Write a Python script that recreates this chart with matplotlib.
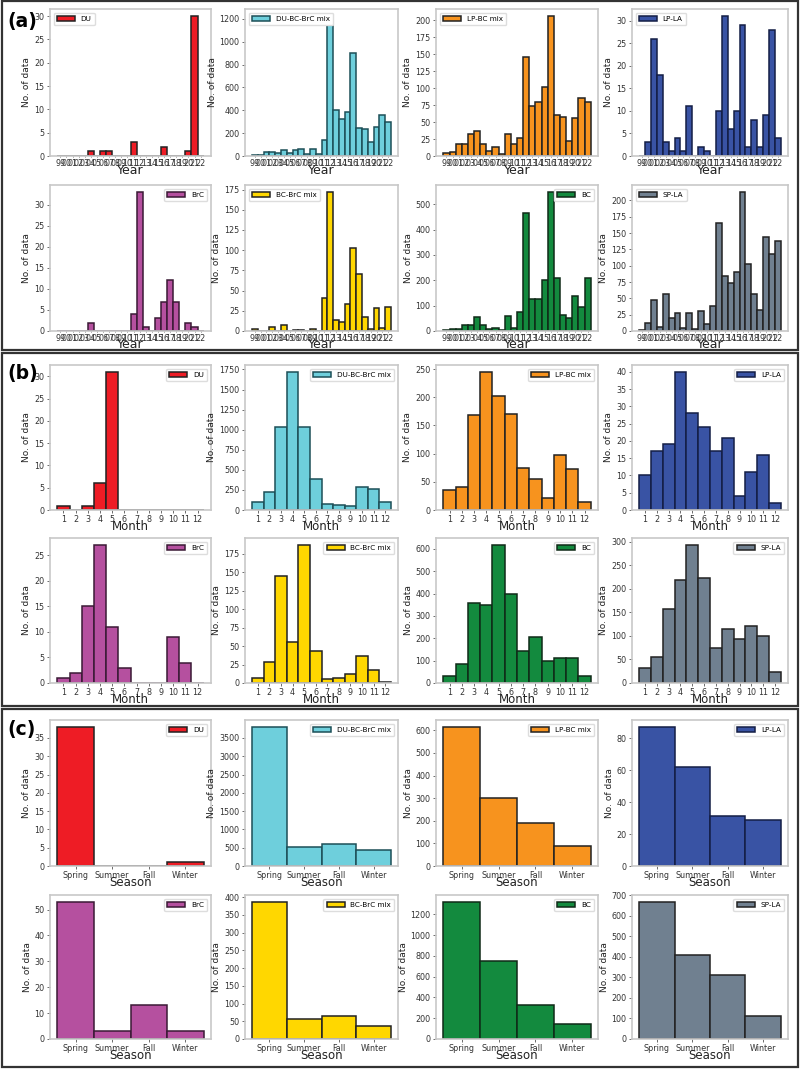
import numpy as np
import matplotlib
matplotlib.use("Agg")
import matplotlib.pyplot as plt
from matplotlib.patches import Rectangle
from matplotlib.ticker import MaxNLocator

types = ["DU", "DU-BC-BrC mix", "LP-BC mix", "LP-LA", "BrC", "BC-BrC mix", "BC", "SP-LA"]
colors = ["#ee1c25", "#6ecfdc", "#f7931e", "#3953a4", "#b5509f", "#ffd700", "#138a3e", "#708090"]
edges = ["#222222", "#1d4f57", "#222222", "#141e45", "#3a1a35", "#222222", "#0f2a18", "#222222"]

years = ["99"] + ["%02d" % y for y in range(0, 23)]
months = [str(m) for m in range(1, 13)]
seasons = ["Spring", "Summer", "Fall", "Winter"]

year_counts = [
    [0, 0, 0, 0, 0, 1, 0, 1, 1, 0, 0, 0, 3, 0, 0, 0, 0, 2, 0, 0, 0, 1, 30, 0],
    [5, 5, 35, 35, 30, 55, 30, 55, 65, 20, 65, 15, 140, 1225, 405, 320, 385, 905, 245, 235, 125, 255, 355, 300],
    [4, 6, 17, 18, 33, 37, 17, 7, 13, 3, 33, 17, 26, 146, 73, 79, 102, 206, 60, 57, 22, 56, 86, 80],
    [0, 3, 26, 18, 3, 1, 4, 1, 11, 0, 2, 1, 0, 10, 31, 6, 10, 29, 2, 8, 2, 9, 28, 4],
    [0, 0, 0, 0, 0, 2, 0, 0, 0, 0, 0, 0, 4, 33, 1, 0, 3, 7, 12, 7, 0, 2, 1, 0],
    [2, 0, 0, 5, 0, 8, 0, 1, 1, 0, 2, 0, 41, 172, 14, 11, 34, 103, 70, 17, 3, 28, 4, 30],
    [3, 8, 8, 22, 22, 57, 22, 8, 13, 3, 60, 12, 75, 465, 125, 125, 200, 548, 210, 63, 53, 137, 96, 210],
    [2, 13, 47, 6, 56, 20, 27, 4, 27, 3, 31, 11, 38, 165, 84, 73, 91, 213, 103, 56, 32, 144, 118, 138],
]

month_counts = [
    [1, 0, 1, 6, 31, 0, 0, 0, 0, 0, 0, 0],
    [105, 230, 1030, 1720, 1030, 380, 75, 65, 55, 285, 260, 95],
    [36, 40, 168, 245, 203, 170, 75, 55, 22, 97, 73, 15],
    [10, 17, 19, 40, 28, 24, 17, 21, 4, 11, 16, 2],
    [1, 2, 15, 27, 11, 3, 0, 0, 0, 9, 4, 0],
    [7, 28, 145, 55, 187, 44, 5, 7, 12, 36, 18, 2],
    [30, 85, 357, 347, 618, 400, 145, 205, 100, 113, 112, 30],
    [32, 55, 157, 218, 293, 222, 74, 115, 94, 120, 99, 23],
]

season_counts = [
    [38, 0, 0, 1],
    [3800, 520, 600, 430],
    [615, 300, 192, 90],
    [87, 62, 31, 29],
    [53, 3, 13, 3],
    [387, 57, 66, 37],
    [1320, 750, 330, 145],
    [667, 410, 313, 110],
]

year_legend_loc = ["upper left", "upper left", "upper left", "upper left",
                   "upper right", "upper left", "upper right", "upper left"]

W, H = 800, 1069
fig = plt.figure(figsize=(W / 100, H / 100), dpi=100)

cols = [(50, 211), (245, 398), (436, 598), (632, 788)]
rows = {
    "a": [(9, 156), (185, 331)],
    "b": [(365, 510), (538, 683)],
    "c": [(720, 866), (895, 1039)],
}
boxes = {"a": (1, 350), "b": (353, 706), "c": (709, 1067)}


def px_axes(x0, x1, y0, y1):
    return fig.add_axes([x0 / W, 1 - y1 / H, (x1 - x0) / W, (y1 - y0) / H])


def style(ax):
    for s in ax.spines.values():
        s.set_color("#c8c8c8")
        s.set_linewidth(1.2)
    ax.tick_params(colors="#333333", labelsize=5.8, length=2.5, width=0.6)
    ax.tick_params(axis="both", color="#555555")
    ax.tick_params(axis="y", pad=1.5)
    ax.yaxis.set_major_locator(MaxNLocator(nbins=9, steps=[1, 2, 2.5, 5, 10]))
    ax.set_ylabel("No. of data", fontsize=6.5, color="#222222", labelpad=2)


# per section: tick font size, x label size, x label offset (px below axes)
sections = [
    ("a", year_counts, years, "Year", year_legend_loc, 2.5, 9, 7.5),
    ("b", month_counts, months, "Month", ["upper right"] * 8, 6.4, 8.5, 10),
    ("c", season_counts, seasons, "Season", ["upper right"] * 8, 5.6, 8.5, 10),
]

for key, data, labels, xlabel, locs, tsize, lsize, off in sections:
    for i in range(8):
        r, c = divmod(i, 4)
        y0, y1 = rows[key][r]
        x0, x1 = cols[c]
        ax = px_axes(x0, x1, y0, y1)
        pos = np.arange(len(labels))
        ax.bar(pos, data[i], width=1.0, color=colors[i], edgecolor=edges[i],
               linewidth=1.1, label=types[i])
        ax.set_xticks(pos)
        ax.set_xticklabels(labels, fontsize=tsize)
        style(ax)
        if key == "a":
            ax.tick_params(axis="x", length=1, pad=1.2)
        else:
            ax.tick_params(axis="x", pad=1.2)
        ax.set_xlabel(xlabel, fontsize=lsize, color="#222222")
        ax.xaxis.set_label_coords(0.5, -off / (y1 - y0))
        ax.legend(loc=locs[i], fontsize=5.2, handlelength=2.5, borderpad=0.45,
                  handleheight=0.7, framealpha=1, edgecolor="#dddddd")

for key, (t, b) in boxes.items():
    fig.patches.append(Rectangle((2 / W, 1 - b / H), (W - 4) / W, (b - t) / H,
                                 transform=fig.transFigure, fill=False,
                                 edgecolor="#333333", linewidth=1.6))
    fig.text(7 / W, 1 - (t + 20) / H, "(%s)" % key, fontsize=13.5, fontweight="bold",
             va="center", ha="left")

fig.savefig("out.png", dpi=100)
